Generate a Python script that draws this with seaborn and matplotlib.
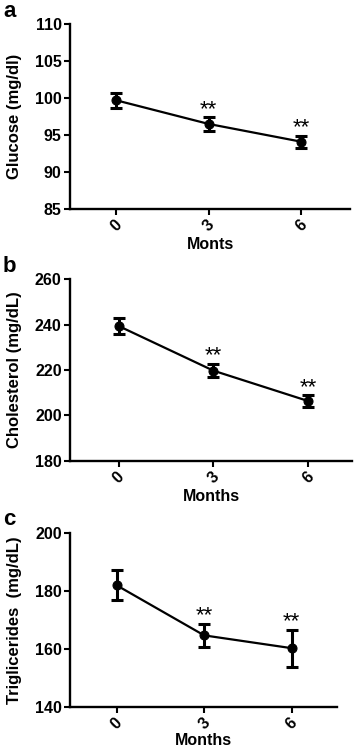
import matplotlib
matplotlib.use("Agg")
import matplotlib.pyplot as plt
import seaborn as sns
import pandas as pd
import numpy as np

sns.set_theme(style="ticks")
plt.rcParams['font.family'] = ['Liberation Sans', 'DejaVu Sans']
plt.rcParams['text.color'] = 'black'
plt.rcParams['axes.labelcolor'] = 'black'
plt.rcParams['xtick.color'] = 'black'
plt.rcParams['ytick.color'] = 'black'

months = [0, 3, 6]
month_labels = ["0", "3", "6"]

glucose_mean = [99.7, 96.5, 94.1]
glucose_err = [1.0, 0.9, 0.8]
chol_mean = [239.4, 219.7, 206.3]
chol_err = [3.4, 3.0, 2.6]
trig_mean = [181.9, 164.7, 160.3]
trig_err = [5.2, 4.0, 6.3]
stars = ["", "**", "**"]

panels = [
    dict(letter="a", mean=glucose_mean, err=glucose_err, ylabel="Glucose (mg/dl)",
         xlabel="Monts", ylim=(85, 110), yticks=[85, 90, 95, 100, 105, 110],
         rect=[0.1955, 0.7213, 0.7825, 0.2467], xlim=(-1.49, 7.59), xpad=2),
    dict(letter="b", mean=chol_mean, err=chol_err, ylabel="Cholesterol (mg/dL)",
         xlabel="Months", ylim=(180, 260), yticks=[180, 200, 220, 240, 260],
         rect=[0.1955, 0.3857, 0.7875, 0.2419], xlim=(-1.54, 7.38), xpad=2),
    dict(letter="c", mean=trig_mean, err=trig_err, ylabel="Triglicerides  (mg/dL)",
         xlabel="Months", ylim=(140, 200), yticks=[140, 160, 180, 200],
         rect=[0.1955, 0.0570, 0.7455, 0.2328], xlim=(-1.6, 7.55), xpad=0),
]

fig = plt.figure(figsize=(3.58, 7.5), dpi=100)

for p in panels:
    ax = fig.add_axes(p["rect"])
    df = pd.DataFrame({"month": months, "value": p["mean"]})
    sns.lineplot(data=df, x="month", y="value", ax=ax, color="black",
                 linewidth=1.6, marker="o", markersize=6.5, markeredgecolor="black")
    ax.errorbar(months, p["mean"], yerr=p["err"], fmt="none", ecolor="black",
                elinewidth=2.2, capsize=4, capthick=2.2)
    for m, v, e, s in zip(months, p["mean"], p["err"], stars):
        if s:
            ax.annotate(s, (m, v + e), xytext=(0, -2), textcoords="offset points",
                        ha="center", va="bottom", fontsize=16, color="black")
    ax.set_xlim(*p["xlim"])
    ax.set_ylim(*p["ylim"])
    ax.set_yticks(p["yticks"])
    ax.set_xticks(months)
    ax.set_xticklabels(month_labels, rotation=45, ha="center")
    ax.set_ylabel(p["ylabel"], fontsize=12, fontweight="bold", labelpad=9)
    ax.set_xlabel(p["xlabel"], fontsize=11.5, fontweight="bold", labelpad=p["xpad"])
    sns.despine(ax=ax)
    for sp in ["left", "bottom"]:
        ax.spines[sp].set_linewidth(1.7)
        ax.spines[sp].set_color("black")
    ax.tick_params(axis="both", direction="out", length=4, width=1.5, colors="black",
                   labelsize=11.5, pad=2)
    for lab in ax.get_xticklabels() + ax.get_yticklabels():
        lab.set_fontweight("bold")
    x0 = 3 / 358
    y0 = p["rect"][1] + p["rect"][3] + 0.005
    fig.text(x0, y0 + 0.012, p["letter"], fontsize=16, fontweight="bold",
             ha="left", va="center")

fig.savefig("out.png", dpi=100)
